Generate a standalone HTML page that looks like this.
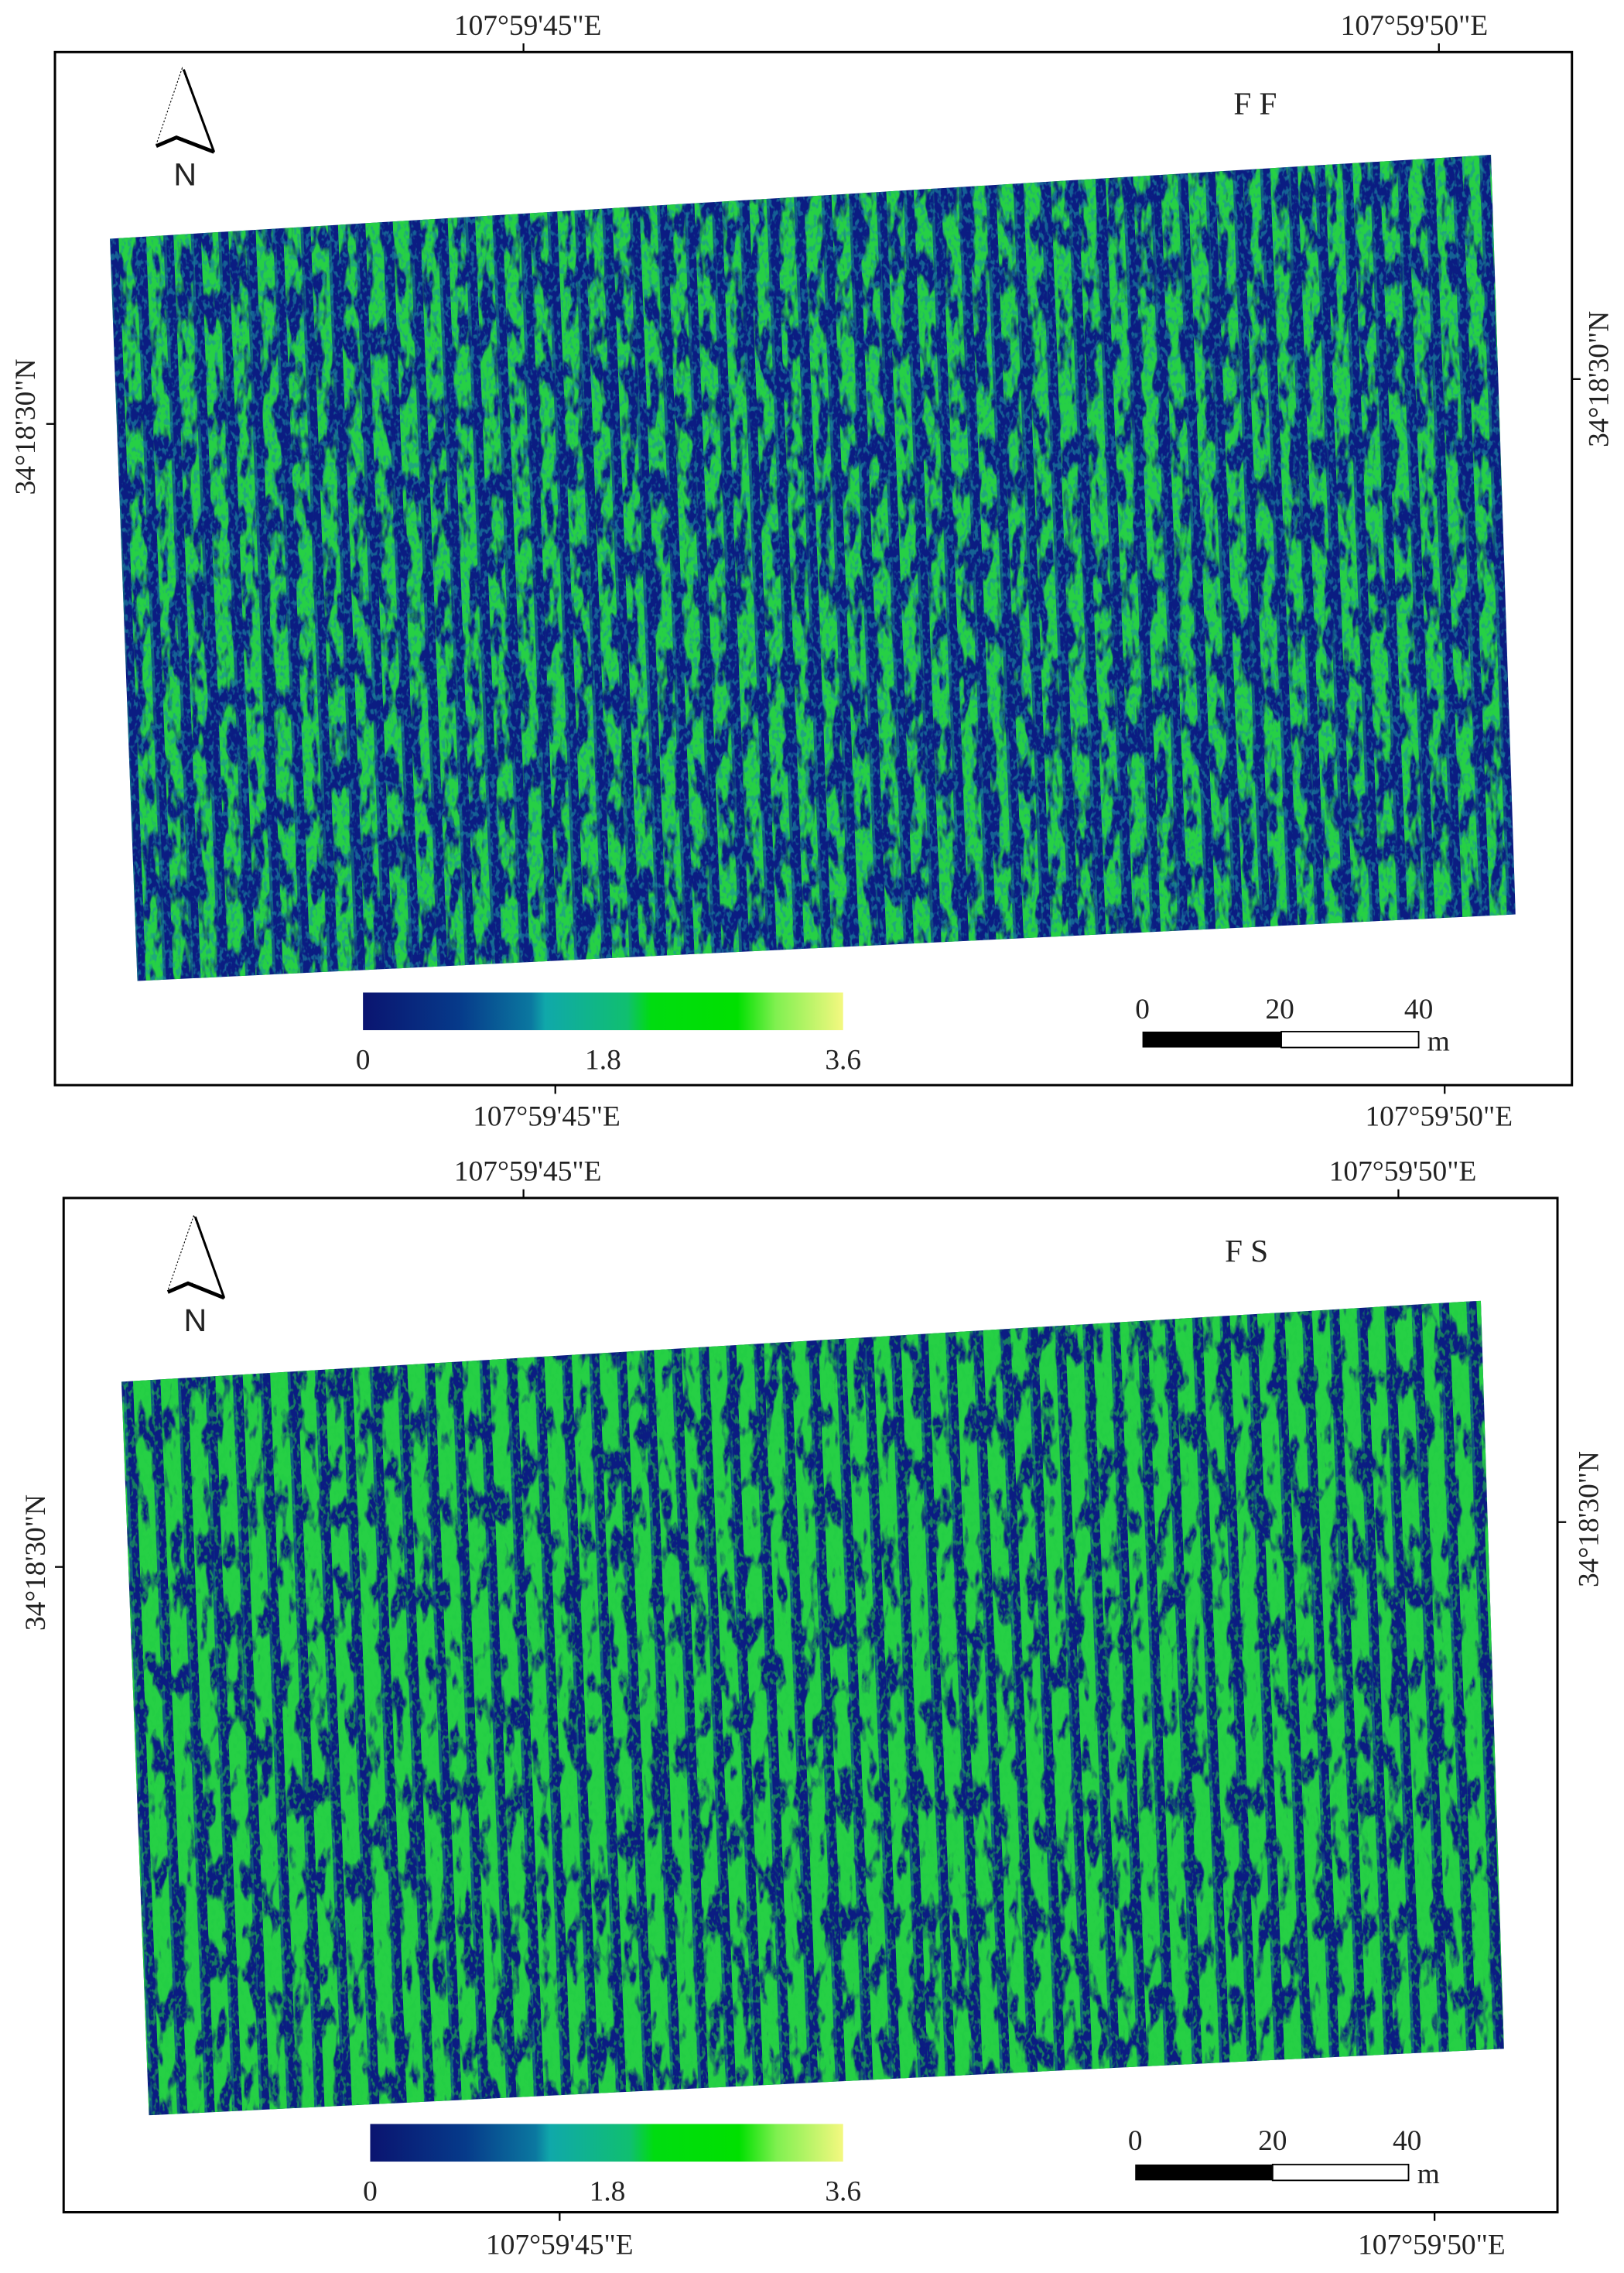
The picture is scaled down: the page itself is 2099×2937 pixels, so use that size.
<!DOCTYPE html>
<html><head><meta charset="utf-8"><style>
html,body{margin:0;padding:0;background:#fff;}
svg{display:block;}
text{font-family:"Liberation Serif",serif;fill:#222;}
</style></head><body>
<svg width="2099" height="2937" viewBox="0 0 1123 1571" preserveAspectRatio="none" xmlns="http://www.w3.org/2000/svg">
<defs>
<linearGradient id="cb" x1="0" x2="1" y1="0" y2="0">
<stop offset="0" stop-color="#0a1470"/>
<stop offset="0.2" stop-color="#063a8a"/>
<stop offset="0.35" stop-color="#0b78a0"/>
<stop offset="0.38" stop-color="#10a8aa"/>
<stop offset="0.55" stop-color="#10bf70"/>
<stop offset="0.6" stop-color="#00dc10"/>
<stop offset="0.78" stop-color="#00e000"/>
<stop offset="0.86" stop-color="#80f050"/>
<stop offset="1" stop-color="#f4f880"/>
</linearGradient>
<pattern id="st" width="19" height="40" patternUnits="userSpaceOnUse" patternTransform="skewX(2.1)">
<rect x="0" y="0" width="12" height="40" fill="#26d044"/>
<rect x="12" y="0" width="2" height="40" fill="#1a9a80" opacity="0.5"/>
</pattern>
<filter id="n1" x="0" y="0" width="1" height="1" filterUnits="objectBoundingBox">
<feTurbulence type="fractalNoise" baseFrequency="0.12 0.04" numOctaves="3" seed="3" result="t"/>
<feColorMatrix in="t" type="matrix" values="0 0 0 0 0  0 0 0 0 0  0 0 0 0 0  7 0 0 0 -2.7" result="m"/>
<feComposite in="SourceGraphic" in2="m" operator="in"/>
</filter>
<filter id="n1b" x="0" y="0" width="1" height="1" filterUnits="objectBoundingBox">
<feTurbulence type="fractalNoise" baseFrequency="0.1 0.035" numOctaves="3" seed="5" result="t"/>
<feColorMatrix in="t" type="matrix" values="0 0 0 0 0  0 0 0 0 0  0 0 0 0 0  7 0 0 0 -2.4" result="m"/>
<feComposite in="SourceGraphic" in2="m" operator="in"/>
</filter>
<filter id="n2" x="0" y="0" width="1" height="1" filterUnits="objectBoundingBox">
<feTurbulence type="fractalNoise" baseFrequency="0.35 0.2" numOctaves="2" seed="7" result="t"/>
<feColorMatrix in="t" type="matrix" values="0 0 0 0 0  0 0 0 0 0  0 0 0 0 0  6 0 0 0 -3.0" result="m"/>
<feComposite in="SourceGraphic" in2="m" operator="in"/>
</filter>
<clipPath id="c1"><polygon points="76,165 1031,107 1048,632 95,678"/></clipPath>
<clipPath id="c2"><polygon points="84,955 1024,899 1040,1416 103,1462"/></clipPath>
</defs>

<!-- PANEL 1 -->
<rect x="38" y="36" width="1049" height="714" fill="none" stroke="#000" stroke-width="1.6"/>
<g clip-path="url(#c1)">
<rect x="70" y="100" width="990" height="590" fill="#0b1c82"/>
<rect x="70" y="100" width="990" height="590" fill="url(#st)" filter="url(#n1)"/>
<rect x="70" y="100" width="990" height="590" fill="#1e8fa0" filter="url(#n2)" opacity="0.6"/>
</g>
<g stroke="#000" stroke-width="1.2">
<line x1="362" y1="36" x2="362" y2="30"/><line x1="995" y1="36" x2="995" y2="30"/>
<line x1="384" y1="750" x2="384" y2="756"/><line x1="999" y1="750" x2="999" y2="756"/>
<line x1="38" y1="293" x2="32" y2="293"/><line x1="1087" y1="262" x2="1093" y2="262"/>
</g>
<text x="365" y="24" font-size="20" text-anchor="middle">107°59'45"E</text>
<text x="978" y="24" font-size="20" text-anchor="middle">107°59'50"E</text>
<text x="378" y="778" font-size="20" text-anchor="middle">107°59'45"E</text>
<text x="995" y="778" font-size="20" text-anchor="middle">107°59'50"E</text>
<text transform="translate(24,295) rotate(-90)" font-size="20" text-anchor="middle">34°18'30"N</text>
<text transform="translate(1112,262) rotate(-90)" font-size="20" text-anchor="middle">34°18'30"N</text>
<text x="868" y="79" font-size="22" text-anchor="middle">F F</text>
<g>
<polygon points="126,47 108,100 125,95 148,105" fill="none" stroke="#000" stroke-width="0.6" stroke-dasharray="1.2,1.2"/>
<line x1="127" y1="48" x2="148" y2="105" stroke="#000" stroke-width="1.6"/>
<polyline points="108,101 122,95 148,105" fill="none" stroke="#000" stroke-width="2.6"/>
<text x="128" y="128" font-size="22" text-anchor="middle" style="font-family:'Liberation Sans',sans-serif">N</text>
</g>
<rect x="251" y="686" width="332" height="26" fill="url(#cb)"/>
<text x="251" y="739" font-size="20" text-anchor="middle">0</text>
<text x="417" y="739" font-size="20" text-anchor="middle">1.8</text>
<text x="583" y="739" font-size="20" text-anchor="middle">3.6</text>
<text x="790" y="704" font-size="20" text-anchor="middle">0</text>
<text x="885" y="704" font-size="20" text-anchor="middle">20</text>
<text x="981" y="704" font-size="20" text-anchor="middle">40</text>
<rect x="790" y="713" width="96" height="11" fill="#000"/>
<rect x="886" y="713" width="95" height="11" fill="#fff" stroke="#000" stroke-width="1"/>
<text x="987" y="726" font-size="20">m</text>

<!-- PANEL 2 -->
<rect x="44" y="828" width="1033" height="701" fill="none" stroke="#000" stroke-width="1.6"/>
<g clip-path="url(#c2)">
<rect x="78" y="890" width="970" height="580" fill="#0b1c82"/>
<rect x="78" y="890" width="970" height="580" fill="url(#st)" filter="url(#n1b)"/>
<rect x="78" y="890" width="970" height="580" fill="#22cc44" filter="url(#n2)" opacity="0.55"/>
</g>
<g stroke="#000" stroke-width="1.2">
<line x1="362" y1="828" x2="362" y2="822"/><line x1="967" y1="828" x2="967" y2="822"/>
<line x1="387" y1="1529" x2="387" y2="1535"/><line x1="992" y1="1529" x2="992" y2="1535"/>
<line x1="44" y1="1083" x2="38" y2="1083"/><line x1="1077" y1="1052" x2="1083" y2="1052"/>
</g>
<text x="365" y="816" font-size="20" text-anchor="middle">107°59'45"E</text>
<text x="970" y="816" font-size="20" text-anchor="middle">107°59'50"E</text>
<text x="387" y="1558" font-size="20" text-anchor="middle">107°59'45"E</text>
<text x="990" y="1558" font-size="20" text-anchor="middle">107°59'50"E</text>
<text transform="translate(31,1080) rotate(-90)" font-size="20" text-anchor="middle">34°18'30"N</text>
<text transform="translate(1105,1050) rotate(-90)" font-size="20" text-anchor="middle">34°18'30"N</text>
<text x="862" y="872" font-size="22" text-anchor="middle">F S</text>
<g>
<polygon points="134,840 116,892 133,887 155,897" fill="none" stroke="#000" stroke-width="0.6" stroke-dasharray="1.2,1.2"/>
<line x1="135" y1="841" x2="155" y2="897" stroke="#000" stroke-width="1.6"/>
<polyline points="116,893 130,887 155,897" fill="none" stroke="#000" stroke-width="2.6"/>
<text x="135" y="920" font-size="22" text-anchor="middle" style="font-family:'Liberation Sans',sans-serif">N</text>
</g>
<rect x="256" y="1468" width="327" height="26" fill="url(#cb)"/>
<text x="256" y="1521" font-size="20" text-anchor="middle">0</text>
<text x="420" y="1521" font-size="20" text-anchor="middle">1.8</text>
<text x="583" y="1521" font-size="20" text-anchor="middle">3.6</text>
<text x="785" y="1486" font-size="20" text-anchor="middle">0</text>
<text x="880" y="1486" font-size="20" text-anchor="middle">20</text>
<text x="973" y="1486" font-size="20" text-anchor="middle">40</text>
<rect x="785" y="1496" width="95" height="11" fill="#000"/>
<rect x="880" y="1496" width="94" height="11" fill="#fff" stroke="#000" stroke-width="1"/>
<text x="980" y="1509" font-size="20">m</text>
</svg>
</body></html>
